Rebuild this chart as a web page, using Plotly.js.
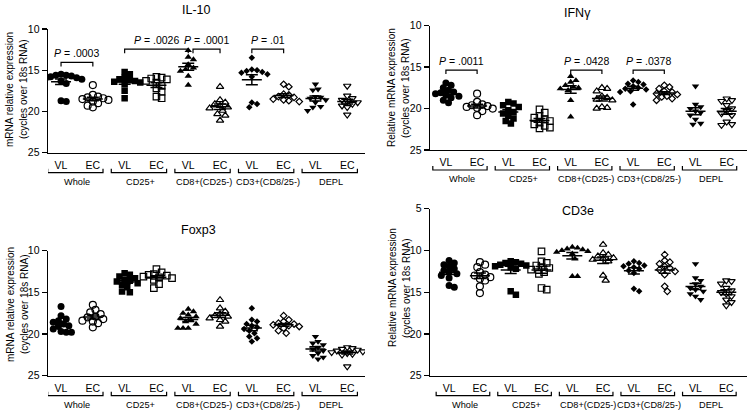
<!DOCTYPE html>
<html><head><meta charset="utf-8">
<script src="https://cdn.plot.ly/plotly-3.0.1.min.js"></script>
<style>html,body{margin:0;padding:0;background:#fff}#chart{width:748px;height:410px}</style>
</head><body><div id="chart"></div>
<script>
// ---------------- DATA ----------------
const categories = ['VL','EC','VL','EC','VL','EC','VL','EC','VL','EC'];
const groups = ['Whole','CD25+','CD8+(CD25-)','CD3+(CD8/25-)','DEPL'];
const panelTitles = ['IL-10','IFN\u03b3','Foxp3','CD3e'];
const yTitleLine1 = ['mRNA relative expression','Relative mRNA expression','mRNA relative expression','Relative mRNA expression'];
const yTitleLine2 = ['(cycles over 18s RNA)','(cycles over 18s RNA)','(cycles over 18s RNA)','(cycles over 18s RNA)'];
const yTicks1 = [10,15,20,25];
const yTicks4 = [5,10,15,20,25];

// cycles over 18s RNA, one list per category (VL/EC x group)
const il10 = [
  [15.5,15.6,15.6,15.7,15.8,15.9,16.0,16.1,16.3,16.6,18.7,18.8],
  [16.8,18.0,18.2,18.3,18.4,18.5,18.6,18.8,19.0,19.3,19.5],
  [15.2,15.5,15.9,16.1,16.2,16.3,16.4,16.5,16.7,17.5,18.4],
  [15.8,15.9,16.0,16.1,16.3,16.5,16.9,17.2,17.6,18.2,18.4],
  [12.6,13.4,13.7,14.3,14.7,14.9,15.1,15.7,16.8],
  [17.0,18.6,18.9,19.1,19.3,19.5,19.6,19.9,20.3,20.5,21.1],
  [13.5,14.9,15.0,15.1,15.2,15.3,15.5,15.8,18.9,19.5,19.1],
  [16.7,17.0,17.9,18.0,18.2,18.3,18.5,18.6,18.7,18.8],
  [16.7,17.3,17.4,18.2,18.3,18.4,18.6,18.9,19.4,19.5,19.9],
  [16.9,18.1,18.4,18.6,18.8,18.9,19.1,19.3,19.5,20.4]
];
const ifng = [
  [16.9,17.2,17.5,17.8,18.0,18.1,18.2,18.4,18.5,18.7,19.0,19.3],
  [18.2,19.2,19.5,19.6,19.7,19.8,19.9,20.0,20.3,20.8],
  [19.2,19.4,19.6,19.8,20.2,20.4,20.6,20.9,21.2,21.5,21.8],
  [20.1,20.5,20.9,21.1,21.3,21.5,21.7,21.9,22.1,22.3,22.4],
  [16.1,16.6,16.8,17.2,17.4,17.5,17.6,17.8,19.0,21.0],
  [17.5,17.6,17.9,18.5,18.7,18.9,19.0,19.8,19.9,20.0],
  [16.6,16.8,17.0,17.1,17.3,17.5,17.6,17.7,17.9,18.0,19.5],
  [17.2,17.4,17.6,17.9,18.0,18.2,18.3,18.5,18.6,18.8,19.0],
  [17.3,19.5,19.8,20.0,20.3,20.5,20.8,21.3,21.8,21.9],
  [18.8,19.0,19.1,19.6,20.0,20.3,20.6,20.8,21.6,21.9,22.0]
];
const foxp3 = [
  [16.7,17.8,18.2,18.4,18.6,18.8,19.0,19.1,19.4,19.7,19.8,19.8],
  [16.5,17.1,17.4,17.6,17.9,18.0,18.2,18.4,18.5,18.7,19.2],
  [12.7,12.9,13.1,13.3,13.5,13.6,13.7,13.9,14.1,14.4,14.9,15.0],
  [12.2,12.6,12.8,12.9,13.0,13.1,13.2,13.3,13.5,14.0,14.5],
  [17.0,17.3,17.5,17.7,17.9,18.1,18.3,18.5,18.8,19.3,19.3,19.3],
  [15.9,16.9,17.3,17.6,17.8,17.9,18.1,18.3,18.5,19.1],
  [16.9,18.3,18.5,18.8,19.0,19.2,19.4,19.6,19.9,20.3,20.5,20.9],
  [17.8,18.3,18.5,18.7,18.8,18.9,19.0,19.1,19.3,19.6,19.9],
  [20.3,20.9,21.1,21.3,21.6,21.8,22.0,22.3,22.6,22.8,23.0],
  [21.6,21.7,21.8,21.9,22.0,22.1,22.2,22.3,22.4,22.5,23.9]
];
const cd3e = [
  [11.2,11.5,11.7,11.9,12.2,12.4,12.6,12.8,13.0,13.3,14.2,14.4],
  [11.4,11.7,12.0,12.6,12.9,13.0,13.2,13.4,13.6,14.3,15.1],
  [11.3,11.4,11.5,11.6,11.7,11.8,11.9,12.0,12.2,14.9,15.3],
  [10.1,11.3,11.5,11.8,12.0,12.1,12.3,12.6,12.8,14.5,14.7],
  [9.6,9.7,9.8,9.9,10.0,10.1,10.2,10.4,11.0,13.1,13.1],
  [9.3,10.3,10.5,10.7,10.9,11.0,11.1,11.3,13.0,13.6],
  [11.3,11.5,11.6,11.8,11.9,12.0,12.2,12.4,12.7,14.6,14.9],
  [10.5,11.2,11.4,11.6,11.9,12.1,12.3,12.5,12.9,14.3,14.9],
  [11.6,13.3,13.6,14.0,14.3,14.5,14.7,14.9,15.2,15.5,15.9],
  [13.6,13.7,14.0,14.5,14.8,15.0,15.2,15.5,15.9,16.2,16.6]
];

// significance comparisons (category index from -> to, bracket level, p text)
const il10PFrom  = [0, 2, 4, 6];
const il10PTo    = [1, 4, 5, 7];
const il10PLevel = [14.05, 12.45, 12.45, 12.45];
const il10PText  = ['.0003', '.0026', '.0001', '.01'];
const ifngPFrom  = [0, 4, 6];
const ifngPTo    = [1, 5, 7];
const ifngPLevel = [15.35, 15.35, 15.35];
const ifngPText  = ['.0011', '.0428', '.0378'];

// ---------------- STYLE / GEOMETRY ----------------
const W = 748, H = 410;
const FONT = 'Arial, "Liberation Sans", Helvetica, sans-serif';
const symbols = ['circle','square','triangle-up','diamond','triangle-down'];
const symSize = [7, 6.5, 6.5, 5, 6.5];

const panelData = [il10, ifng, foxp3, cd3e];
const panelP = [
  {from: il10PFrom, to: il10PTo, lvl: il10PLevel, txt: il10PText},
  {from: ifngPFrom, to: ifngPTo, lvl: ifngPLevel, txt: ifngPText},
  null, null
];
const geom = [
  {x0:48,  x1:365, yTop:29,    yBot:152.7, yr:[25,10], tv:yTicks1, k:31.8, xs:-0.41, tx:196, ty:10,  yt:[10,24],   yc:90},
  {x0:430, x1:747, yTop:25.7,  yBot:150,   yr:[25,10], tv:yTicks1, k:31.2, xs:-0.51, tx:577, ty:13,  yt:[392,406], yc:88},
  {x0:48,  x1:365, yTop:250.7, yBot:375.7, yr:[25,10], tv:yTicks1, k:31.8, xs:-0.41, tx:198, ty:230, yt:[10,24],   yc:305},
  {x0:430, x1:747, yTop:208.7, yBot:375.7, yr:[25,5],  tv:yTicks4, k:30.8, xs:-0.62, tx:578, ty:211, yt:[392,406], yc:288}
];

function swarm(values, kx, ky, d) {
  const idx = values.map((v, i) => i).sort((a, b) => values[a] - values[b]);
  const placed = [];
  const offs = new Array(values.length).fill(0);
  const step = d * 0.5;
  for (const i of idx) {
    const ypx = values[i] * ky;
    let chosen = 0;
    for (let n = 0; n < 60; n++) {
      const cand = n === 0 ? 0 : (n % 2 ? 1 : -1) * Math.ceil(n / 2) * step;
      let ok = true;
      for (const p of placed) {
        if (Math.hypot(p.x - cand, p.y - ypx) < d) { ok = false; break; }
      }
      if (ok) { chosen = cand; break; }
    }
    placed.push({x: chosen, y: ypx});
    offs[i] = chosen / kx;
  }
  return offs;
}

const traces = [];
const shapes = [];
const annotations = [];
const layout = {
  width: W, height: H,
  margin: {l: 0, r: 0, t: 0, b: 0, pad: 0},
  showlegend: false,
  paper_bgcolor: '#fff', plot_bgcolor: '#fff',
  font: {family: FONT, color: '#000'},
  shapes: shapes, annotations: annotations
};

panelData.forEach((data, pi) => {
  const g = geom[pi];
  const sfx = pi === 0 ? '' : String(pi + 1);
  const xa = 'x' + sfx, ya = 'y' + sfx;
  const ky = (g.yBot - g.yTop) / (g.yr[0] - g.yr[1]);
  const xr = [g.xs, g.xs + (g.x1 - g.x0) / g.k];

  layout['xaxis' + sfx] = {
    domain: [g.x0 / W, g.x1 / W], range: xr, anchor: ya,
    tickmode: 'array', tickvals: categories.map((c, i) => i), ticktext: categories,
    ticks: '', ticklabelstandoff: 2,
    showline: true, linecolor: '#000', linewidth: 1.4,
    showgrid: false, zeroline: false, fixedrange: true,
    tickfont: {size: 10.5, family: FONT, color: '#000'}
  };
  layout['yaxis' + sfx] = {
    domain: [1 - g.yBot / H, 1 - g.yTop / H], range: g.yr, anchor: xa,
    tickmode: 'array', tickvals: g.tv,
    ticks: 'outside', ticklen: 5, tickwidth: 1.4, tickcolor: '#000',
    showline: true, linecolor: '#000', linewidth: 1.4,
    showgrid: false, zeroline: false, fixedrange: true,
    tickfont: {size: 10.5, family: FONT, color: '#000'}
  };

  // points
  const mx = [], my = [];
  data.forEach((vals, ci) => {
    const gi = Math.floor(ci / 2);
    const open = ci % 2 === 1;
    const offs = swarm(vals, g.k, ky, 5.2);
    traces.push({
      type: 'scatter', mode: 'markers', xaxis: xa, yaxis: ya,
      x: vals.map((v, j) => ci + offs[j]), y: vals,
      marker: {
        symbol: symbols[gi] + (open ? '-open' : ''),
        size: symSize[gi], color: '#000',
        line: {color: '#000', width: open ? 1.2 : 0}
      },
      hoverinfo: 'y'
    });
    // mean +/- SEM
    const n = vals.length;
    const mean = vals.reduce((a, b) => a + b, 0) / n;
    const sd = Math.sqrt(vals.reduce((a, b) => a + (b - mean) * (b - mean), 0) / (n - 1));
    const sem = sd / Math.sqrt(n);
    const hm = 10 / g.k, hs = 6 / g.k;
    mx.push(ci - hm, ci + hm, null, ci - hs, ci + hs, null, ci - hs, ci + hs, null, ci, ci, null);
    my.push(mean, mean, null, mean - sem, mean - sem, null, mean + sem, mean + sem, null, mean - sem, mean + sem, null);
  });
  traces.push({
    type: 'scatter', mode: 'lines', xaxis: xa, yaxis: ya,
    x: mx, y: my, line: {color: '#000', width: 1.5}, hoverinfo: 'skip', connectgaps: false
  });

  // group brackets under the axis
  const yb = 1 - (g.yBot + 20) / H, ybt = 1 - (g.yBot + 16) / H;
  groups.forEach((name, gi) => {
    const a = gi * 2 - 0.42, b = gi * 2 + 1 + 0.32;
    shapes.push({
      type: 'path', xref: xa, yref: 'paper',
      path: `M ${a},${ybt} L ${a},${yb} L ${b},${yb} L ${b},${ybt}`,
      line: {color: '#000', width: 1.2}
    });
    annotations.push({
      xref: xa, yref: 'paper', x: gi * 2 + 0.5, y: 1 - (g.yBot + 29) / H,
      text: name, showarrow: false, xanchor: 'center', yanchor: 'middle',
      font: {size: 9.2, family: FONT, color: '#000'}
    });
  });

  // significance brackets
  const P = panelP[pi];
  if (P) {
    const tick = 4 / ky;
    P.from.forEach((f, j) => {
      const t = P.to[j];
      const a = f + ((pi === 0 && j === 2) ? 0.15 : 0);
      const lv = P.lvl[j];
      shapes.push({
        type: 'path', xref: xa, yref: ya,
        path: `M ${a},${lv + tick} L ${a},${lv} L ${t},${lv} L ${t},${lv + tick}`,
        line: {color: '#000', width: 1.2}
      });
      annotations.push({
        xref: xa, yref: ya, x: (a + t) / 2, y: lv, yshift: 1,
        text: '<i>P</i> = ' + P.txt[j], showarrow: false,
        xanchor: 'center', yanchor: 'bottom',
        font: {size: 10.5, family: FONT, color: '#000'}
      });
    });
  }

  // panel title
  annotations.push({
    xref: 'paper', yref: 'paper', x: g.tx / W, y: 1 - g.ty / H,
    text: panelTitles[pi], showarrow: false, xanchor: 'center', yanchor: 'middle',
    font: {size: 12.5, family: FONT, color: '#000'}
  });
  // y-axis title (two lines)
  [yTitleLine1[pi], yTitleLine2[pi]].forEach((t, li) => {
    annotations.push({
      xref: 'paper', yref: 'paper', x: g.yt[li] / W, y: 1 - g.yc / H,
      text: t, textangle: -90, showarrow: false, xanchor: 'center', yanchor: 'middle',
      font: {size: 10, family: FONT, color: '#000'}
    });
  });
});

Plotly.newPlot('chart', traces, layout, {staticPlot: true, displayModeBar: false});
</script>
</body></html>
